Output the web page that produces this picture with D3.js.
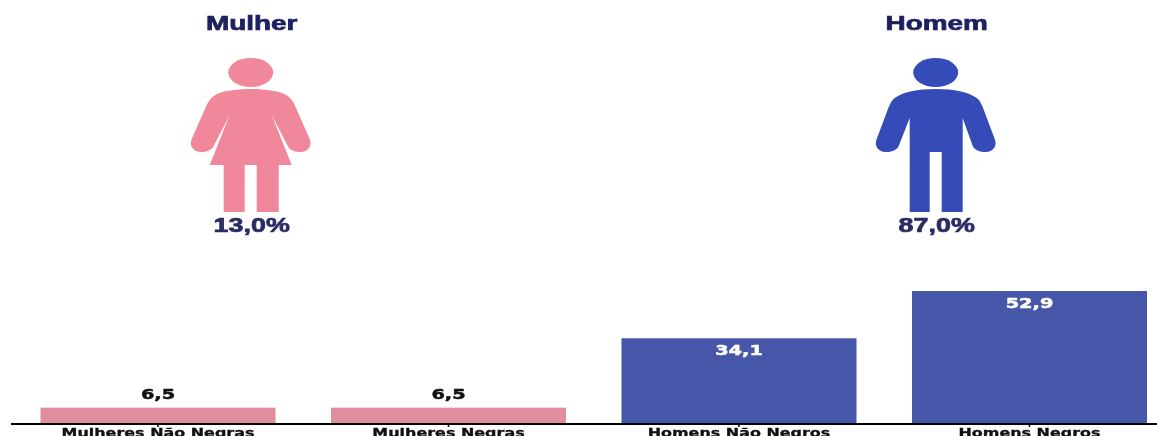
<!DOCTYPE html>
<html lang="pt">
<head>
<meta charset="UTF-8" />
<title>Mulher e Homem</title>
<script src="https://d3js.org/d3.v7.min.js"></script>
<style>
    html, body { margin: 0; padding: 0; background: #fff; overflow: hidden; }
    svg { display: block; filter: blur(0.7px); }
    .axis .domain { stroke: #000; stroke-width: 2px; }
    .axis line { stroke: #000; stroke-width: 1.5px; }
    .axis text { font-family: 'DejaVu Sans', sans-serif; font-weight: bold; font-size: 12px; fill: #111; stroke: #111; stroke-width: 0.3px; }
</style>
</head>
<body>
<svg width="1157" height="436"></svg>
<script>

// bar values
var categories = ["Mulheres Não Negras", "Mulheres Negras", "Homens Não Negros", "Homens Negros"];
var values = [6.5, 6.5, 34.1, 52.9];
var barColors = ["#e08e9e", "#e08e9e", "#4656a8", "#4656a8"];

// the two figures on top
var groups = ["Mulher", "Homem"];
var shares = [13.0, 87.0];
var iconColors = ["#f0879b", "#344bb8"];

var comma = function(v) { return d3.format(".1f")(v).replace(".", ","); };

var svg = d3.select("svg"),
    axisY = 424;

var x = d3.scaleBand()
    .domain(categories)
    .range([12.75, 1174.75])
    .paddingInner(0.191)
    .paddingOuter(0.0955);

var y = d3.scaleLinear()
    .domain([0, 52.9])
    .range([axisY, 291]);

// bars
svg.append("g")
    .selectAll("rect")
    .data(values)
    .enter().append("rect")
        .attr("x", function(d, i) { return x(categories[i]); })
        .attr("y", function(d) { return y(d); })
        .attr("width", x.bandwidth())
        .attr("height", function(d) { return y(0) - y(d); })
        .attr("fill", function(d, i) { return barColors[i]; });

// value labels, inside the bar when it is tall enough. text is stretched like the source image
svg.append("g")
    .selectAll("text")
    .data(values)
    .enter().append("text")
        .attr("transform", function(d, i) {
            var cx = x(categories[i]) + x.bandwidth() / 2;
            var by = d > 20 ? y(d) + 16.5 : y(d) - 8.5;
            return "translate(" + cx + "," + by + ") scale(1.38,1)";
        })
        .attr("text-anchor", "middle")
        .attr("font-family", "'DejaVu Sans', sans-serif")
        .attr("font-weight", "bold")
        .attr("font-size", 14)
        .attr("fill", function(d) { return d > 20 ? "#fff" : "#111"; })
        .attr("stroke", function(d) { return d > 20 ? "#fff" : "#111"; })
        .attr("stroke-width", 0.5)
        .text(comma);

// bottom axis
var axis = svg.append("g")
    .attr("class", "axis")
    .attr("transform", "translate(0," + axisY + ")")
    .call(d3.axisBottom(x).tickSize(3).tickSizeOuter(0));

axis.select(".domain").attr("d", "M11,0H1157");
axis.selectAll(".tick text")
    .attr("y", 13.5)
    .attr("dy", 0)
    .attr("transform", "scale(1.33,1)");

// icons, drawn around x = 0
var womanPath = "M0,89 C-15,89 -30,91 -37,96 C-40,98 -42,101 -44,105 L-59,139 C-62,146 -57,152 -50,152 " +
    "C-44,152 -39,150 -37,146 L-21,115 L-41,165 L-27,165 L-27,212 L-6,212 L-6,165 L6,165 L6,212 L28,212 L28,165 " +
    "L41,165 L21,115 L37,146 C39,150 44,152 50,152 C57,152 62,146 59,139 L44,105 C42,101 40,98 37,96 C30,91 15,89 0,89 Z";
var manPath = "M0,89 C-18,89 -33,92 -41,98 C-44,100 -45,103 -47,107 L-59,139 C-62,146 -57,152 -50,152 " +
    "C-44,152 -39,150 -37,146 L-26,118 L-26,212 L-6,212 L-6,152 L6,152 L6,212 L27,212 L27,118 " +
    "L37,146 C39,150 44,152 50,152 C57,152 62,146 59,139 L47,107 C45,103 44,100 41,98 C33,92 18,89 0,89 Z";
var iconX = d3.scalePoint().domain(groups).range([250.7, 935.7]);

var figure = svg.append("g")
    .selectAll("g")
    .data(groups)
    .enter().append("g")
        .attr("transform", function(d) { return "translate(" + iconX(d) + ",0)"; });

figure.append("ellipse")
    .attr("cy", 72.5)
    .attr("rx", 22.5)
    .attr("ry", 14.5)
    .attr("fill", function(d, i) { return iconColors[i]; });

figure.append("path")
    .attr("d", function(d, i) { return i == 0 ? womanPath : manPath; })
    .attr("fill", function(d, i) { return iconColors[i]; });

figure.append("text")
    .attr("transform", "translate(1,30) scale(1.33,1)")
    .attr("text-anchor", "middle")
    .attr("font-family", "'Liberation Sans', sans-serif")
    .attr("font-weight", "bold")
    .attr("font-size", 21)
    .attr("fill", "#1f2060")
    .attr("stroke", "#1f2060")
    .attr("stroke-width", 0.7)
    .text(function(d) { return d; });

figure.append("text")
    .attr("transform", "translate(1,232) scale(1.28,1)")
    .attr("text-anchor", "middle")
    .attr("font-family", "'Liberation Sans', sans-serif")
    .attr("font-weight", "bold")
    .attr("font-size", 21)
    .attr("fill", "#2b2b66")
    .attr("stroke", "#2b2b66")
    .attr("stroke-width", 0.7)
    .text(function(d, i) { return comma(shares[i]) + "%"; });

</script>
</body>
</html>
